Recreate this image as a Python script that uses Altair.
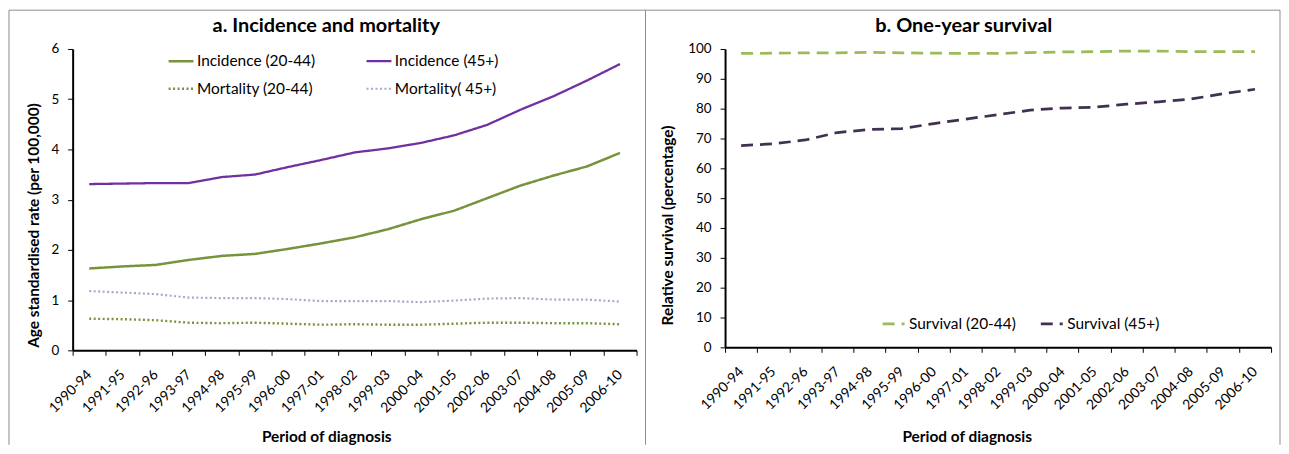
import altair as alt
import pandas as pd

periods = ["1990-94", "1991-95", "1992-96", "1993-97", "1994-98", "1995-99", "1996-00",
           "1997-01", "1998-02", "1999-03", "2000-04", "2001-05", "2002-06", "2003-07",
           "2004-08", "2005-09", "2006-10"]

inc_20_44 = [1.63, 1.67, 1.70, 1.80, 1.88, 1.92, 2.02, 2.13, 2.25, 2.41, 2.61, 2.78, 3.03, 3.28, 3.48, 3.66, 3.93]
inc_45 = [3.31, 3.32, 3.33, 3.33, 3.45, 3.50, 3.65, 3.79, 3.94, 4.02, 4.13, 4.28, 4.49, 4.79, 5.06, 5.37, 5.70]
mort_20_44 = [0.63, 0.62, 0.60, 0.55, 0.54, 0.55, 0.53, 0.51, 0.52, 0.51, 0.51, 0.53, 0.55, 0.55, 0.54, 0.54, 0.52]
mort_45 = [1.18, 1.15, 1.12, 1.05, 1.04, 1.04, 1.02, 0.98, 0.98, 0.98, 0.96, 0.99, 1.03, 1.04, 1.01, 1.01, 0.97]

surv_20_44 = [98.5, 98.6, 98.7, 98.7, 98.9, 98.7, 98.6, 98.5, 98.5, 98.8, 99.0, 99.1, 99.3, 99.3, 99.1, 99.1, 99.1]
surv_45 = [67.6, 68.2, 69.5, 72.0, 73.0, 73.3, 75.0, 76.5, 78.0, 79.5, 80.2, 80.5, 81.5, 82.3, 83.2, 85.0, 86.5]

# legend order (column-major): Inc 20-44 / Mort 20-44 in column 1, Inc 45+ / Mort 45+ in column 2
series_a = ["Incidence (20-44)", "Mortality (20-44)", "Incidence (45+)", "Mortality( 45+)"]
colors_a = ["#77933C", "#77933C", "#7030A0", "#B3A2C7"]
dashes_a = [[1, 0], [2, 2.5], [1, 0], [2, 2.5]]
widths_a = [2.5, 2.2, 2.5, 2.2]

series_b = ["Survival (20-44)", "Survival (45+)"]
colors_b = ["#9BBB59", "#403152"]
dashes_b = [[12, 7], [12, 7]]

title_a = "a. Incidence and mortality"
title_b = "b. One-year survival"

FONT = "Lato"

rows_a = []
for name, vals in zip(["Incidence (20-44)", "Incidence (45+)", "Mortality (20-44)", "Mortality( 45+)"],
                      [inc_20_44, inc_45, mort_20_44, mort_45]):
    for p, v in zip(periods, vals):
        rows_a.append({"period": p, "value": v, "series": name})
df_a = pd.DataFrame(rows_a)

rows_b = []
for name, vals in zip(series_b, [surv_20_44, surv_45]):
    for p, v in zip(periods, vals):
        rows_b.append({"period": p, "value": v, "series": name})
df_b = pd.DataFrame(rows_b)

frame_df = pd.DataFrame({"k": [0]})

W_A, H_A = 567, 303
W_B, H_B = 549, 300
FRAME_COLOR = "#8c8c8c"
AX_TITLE_SIZE = 15.5


def x_enc(title_x, title_y):
    return alt.X(
        "period:N", sort=periods,
        scale=alt.Scale(type="band", paddingInner=0, paddingOuter=0),
        axis=alt.Axis(
            title="Period of diagnosis", labelAngle=315, labelAlign="right",
            labelBaseline="middle", labelPadding=17, labelFontSize=14, labelColor="black",
            tickBand="extent", tickSize=5, tickColor="black", tickWidth=1,
            domainColor="black", domainWidth=2, grid=False,
            titleFontSize=AX_TITLE_SIZE, titleFontWeight="bold", titleColor="black",
            titleX=title_x, titleY=title_y, titleAlign="center", titleBaseline="alphabetic",
            labelOverlap=False,
        ),
    )


def y_axis(title, values, title_x, title_y):
    return alt.Axis(
        title=title, values=values, grid=False, tickSize=5, tickColor="black",
        domainColor="black", domainWidth=2, labelFontSize=13.5, labelColor="black",
        labelPadding=9, titleFontSize=AX_TITLE_SIZE, titleFontWeight="bold", titleColor="black",
        titleX=title_x, titleY=title_y, titleAngle=270, titleAlign="center",
        titleBaseline="middle",
    )


leg_a = alt.Legend(title=None, orient="none", legendX=95, legendY=-2,
                   columns=2, columnPadding=46, rowPadding=5,
                   symbolType="stroke", symbolSize=625,
                   symbolStrokeWidth=2.5, labelFontSize=15.5,
                   labelOffset=2, padding=0, labelColor="black")

lines_a = alt.Chart(df_a).mark_line(strokeCap="butt").encode(
    x=x_enc(255, 92),
    y=alt.Y("value:Q", scale=alt.Scale(domain=[0, 6], nice=False),
            axis=y_axis("Age standardised rate (per 100,000)", [0, 1, 2, 3, 4, 5, 6], -39.5, 177)),
    color=alt.Color("series:N", sort=series_a,
                    scale=alt.Scale(domain=series_a, range=colors_a), legend=leg_a),
    strokeDash=alt.StrokeDash("series:N", sort=series_a,
                              scale=alt.Scale(domain=series_a, range=dashes_a), legend=leg_a),
    strokeWidth=alt.StrokeWidth("series:N", sort=series_a,
                                scale=alt.Scale(domain=series_a, range=widths_a), legend=None),
)

frame_base = alt.Chart(frame_df)
top_rule = frame_base.mark_rule(color=FRAME_COLOR, strokeWidth=1).encode(
    x=alt.value(-64), x2=alt.value(1214), y=alt.value(-39))
left_rule = frame_base.mark_rule(color=FRAME_COLOR, strokeWidth=1).encode(
    x=alt.value(-64), y=alt.value(-39), y2=alt.value(398))
mid_rule = frame_base.mark_rule(color=FRAME_COLOR, strokeWidth=1).encode(
    x=alt.value(576), y=alt.value(-39), y2=alt.value(398))
right_rule = frame_base.mark_rule(color=FRAME_COLOR, strokeWidth=1).encode(
    x=alt.value(1214), y=alt.value(-39), y2=alt.value(398))

head_a = frame_base.mark_text(fontSize=20, fontWeight="bold", font=FONT, color="black",
                              baseline="alphabetic", align="center").encode(
    x=alt.value(255), y=alt.value(-17), text=alt.value(title_a))

panel_a = alt.layer(top_rule, left_rule, mid_rule, right_rule, head_a, lines_a).properties(
    width=W_A, height=H_A,
)

leg_b = alt.Legend(title=None, orient="none", legendX=157, legendY=264, direction="horizontal",
                   columns=2, columnPadding=19, symbolType="stroke", symbolSize=484,
                   symbolStrokeWidth=2.75, labelFontSize=15.5, labelOffset=3, padding=0,
                   labelColor="black")

lines_b = alt.Chart(df_b).mark_line(strokeWidth=2.75, strokeCap="butt").encode(
    x=x_enc(243, 95),
    y=alt.Y("value:Q", scale=alt.Scale(domain=[0, 100], nice=False),
            axis=y_axis("Relative survival (percentage)", list(range(0, 101, 10)), -58, 177)),
    color=alt.Color("series:N", sort=series_b,
                    scale=alt.Scale(domain=series_b, range=colors_b), legend=leg_b),
    strokeDash=alt.StrokeDash("series:N", sort=series_b,
                              scale=alt.Scale(domain=series_b, range=dashes_b), legend=leg_b),
)

head_b = alt.Chart(frame_df).mark_text(fontSize=20, fontWeight="bold", font=FONT, color="black",
                                       baseline="alphabetic", align="center").encode(
    x=alt.value(240), y=alt.value(-17), text=alt.value(title_b))

panel_b = alt.layer(head_b, lines_b).properties(width=W_B, height=H_B)

chart = alt.hconcat(panel_a, panel_b, spacing=89, bounds="flush").resolve_scale(
    color="independent", strokeDash="independent", strokeWidth="independent",
    x="independent", y="independent"
).resolve_legend(
    color="independent", strokeDash="independent"
).properties(
    padding=0
).configure(
    font=FONT,
).configure_view(
    stroke=None
).configure_axis(
    labelFont=FONT, titleFont=FONT
).configure_legend(
    labelFont=FONT
)

chart.save("out.html", embed_options={"renderer": "svg", "actions": False})
